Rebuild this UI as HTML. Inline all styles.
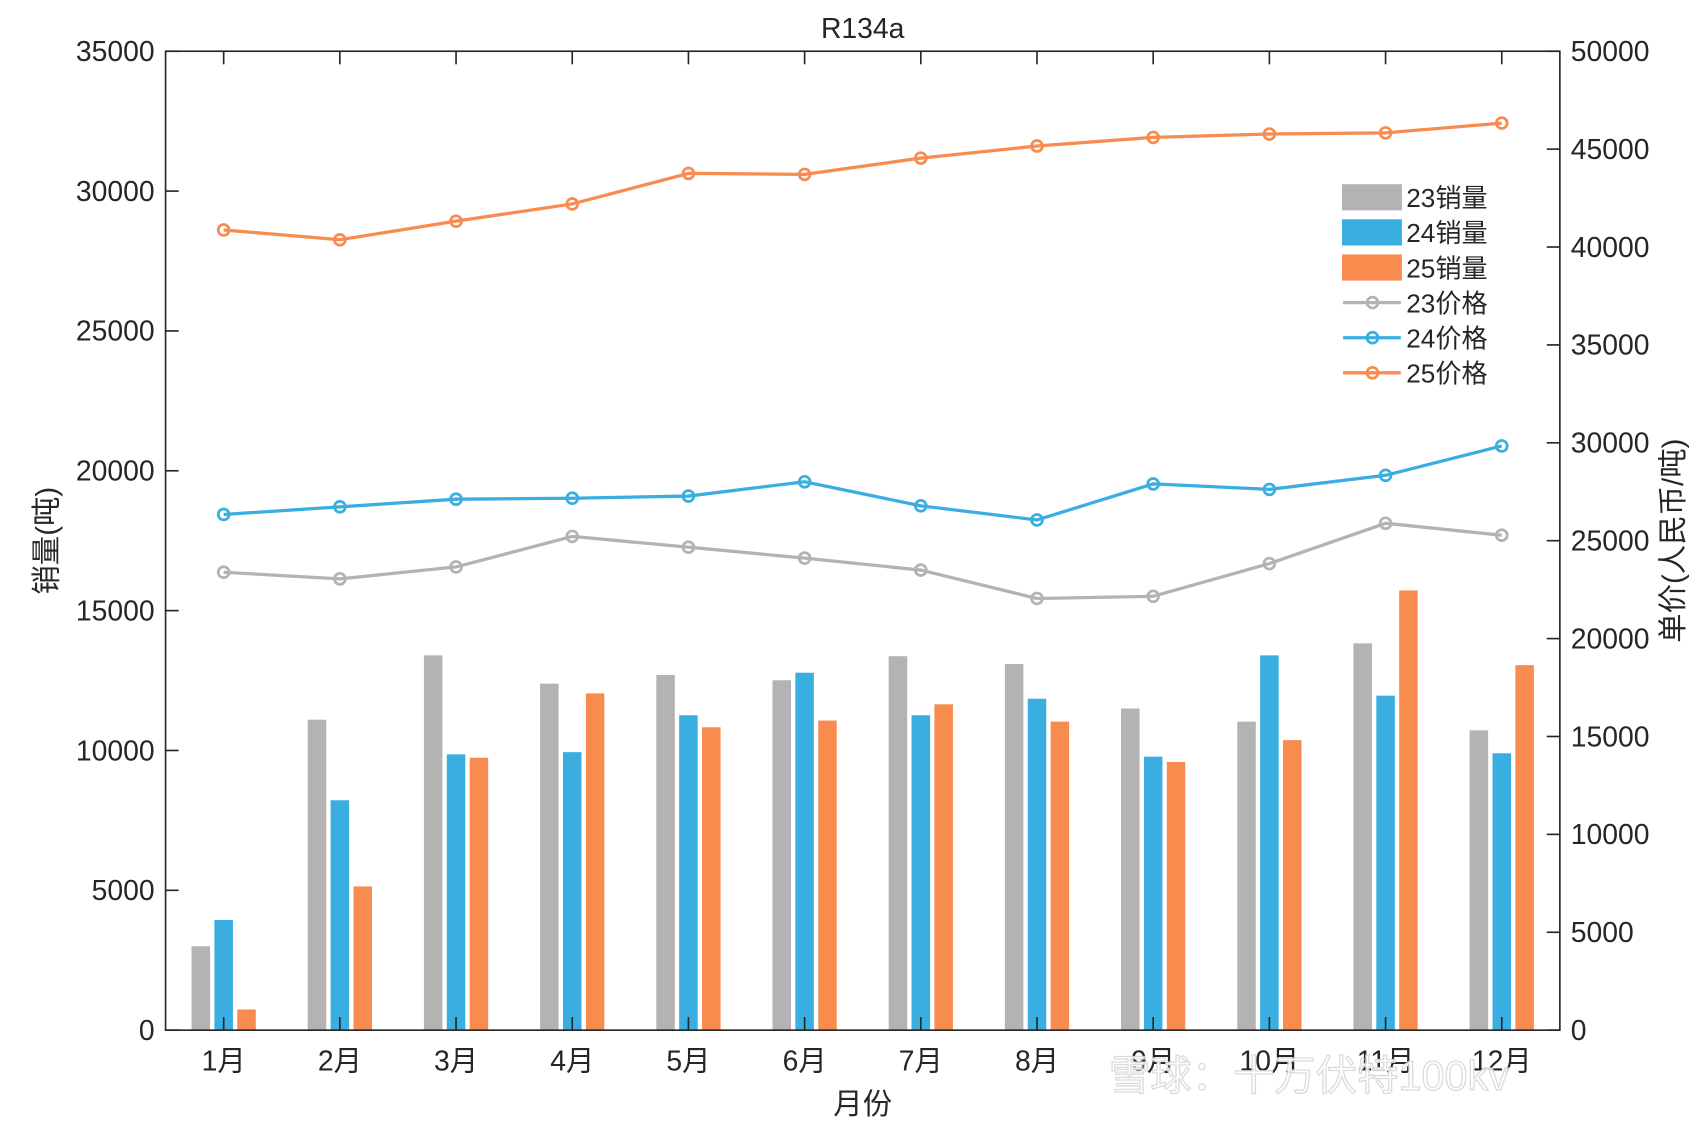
<!DOCTYPE html>
<html><head><meta charset="utf-8"><style>
html,body{margin:0;padding:0;background:#fff;}
svg{display:block;font-family:"Liberation Sans","Noto Sans CJK SC",sans-serif;}
</style></head><body>
<svg id="chart" width="1708" height="1125" viewBox="0 0 1568 1032" preserveAspectRatio="none" xmlns="http://www.w3.org/2000/svg"></svg>
<script>
const months=["1月","2月","3月","4月","5月","6月","7月","8月","9月","10月","11月","12月"];
const sales23=[3000,11100,13400,12390,12700,12510,13370,13090,11500,11030,13830,10720];
const sales24=[3940,8220,9860,9940,11260,12780,11260,11850,9780,13400,11960,9900];
const sales25=[740,5140,9740,12040,10830,11070,11650,11030,9590,10370,15720,13050];
const price23=[23390,23050,23660,25220,24670,24110,23500,22050,22160,23830,25890,25280];
const price24=[26340,26730,27120,27170,27280,28010,26780,26060,27900,27620,28340,29840];
const price25=[40870,40370,41320,42200,43760,43710,44540,45160,45600,45770,45830,46330];
const leftTicks=[0,5000,10000,15000,20000,25000,30000,35000];
const rightTicks=[0,5000,10000,15000,20000,25000,30000,35000,40000,45000,50000];

const NS="http://www.w3.org/2000/svg";
const svg=document.getElementById('chart');
const L=152,R=1432,T=47,B=945;
const yL=v=>B-(v/35000)*(B-T);
const yR=v=>B-(v/50000)*(B-T);
const step=(R-L)/12;
const xM=i=>L+step*(i+0.5);
function mk(tag,attrs,parent){const e=document.createElementNS(NS,tag);for(const k in attrs)e.setAttribute(k,attrs[k]);(parent||svg).appendChild(e);return e;}
function txt(s,attrs,parent){const e=mk('text',attrs,parent);e.textContent=s;return e;}

const colors={g:"#b3b3b3",b:"#3aaee0",o:"#f88c4f"};
const barSeries=[[sales23,colors.g,-21,'bar-23-sales'],[sales24,colors.b,0,'bar-24-sales'],[sales25,colors.o,21,'bar-25-sales']];
barSeries.forEach(([arr,c,off,nm])=>{
  arr.forEach((v,i)=>{
    const r=mk('rect',{x:xM(i)+off-8.5,y:yL(v),width:17,height:B-yL(v),fill:c});
    
    
  });
});
const lineSeries=[[price23,colors.g,'line-23-price'],[price24,colors.b,'line-24-price'],[price25,colors.o,'line-25-price']];
lineSeries.forEach(([arr,c,nm])=>{
  const p=mk('polyline',{points:arr.map((v,i)=>xM(i)+','+yR(v)).join(' '),fill:'none',stroke:c,'stroke-width':3});
  
  
  arr.forEach((v,i)=>{
    const m=mk('circle',{cx:xM(i),cy:yR(v),r:5,fill:'none',stroke:c,'stroke-width':2.5});
    
    
  });
});
const ax=mk('rect',{x:L,y:T,width:R-L,height:B-T,fill:'none',stroke:'#262626','stroke-width':1.5});


leftTicks.forEach(v=>{
  mk('line',{x1:L,x2:L+12,y1:yL(v),y2:yL(v),stroke:'#262626','stroke-width':1.5});
  const t=txt(v,{x:L-10,y:yL(v)+9,'text-anchor':'end','font-size':26,fill:'#262626'});
  
  
});
rightTicks.forEach(v=>{
  mk('line',{x1:R,x2:R-12,y1:yR(v),y2:yR(v),stroke:'#262626','stroke-width':1.5});
  const t=txt(v,{x:R+10,y:yR(v)+9,'text-anchor':'start','font-size':26,fill:'#262626'});
  
  
});
months.forEach((m,i)=>{
  mk('line',{x1:xM(i),x2:xM(i),y1:T,y2:T+12,stroke:'#262626','stroke-width':1.5});
  mk('line',{x1:xM(i),x2:xM(i),y1:B,y2:B-12,stroke:'#262626','stroke-width':1.5});
  const t=txt(m,{x:xM(i),y:B+37,'text-anchor':'middle','font-size':26,fill:'#262626'});
  
  
});
</script>
<script>
(function(){
const NS="http://www.w3.org/2000/svg";const svg=document.getElementById('chart');
function t(s,a,name){const e=document.createElementNS(NS,'text');for(const k in a)e.setAttribute(k,a[k]);e.textContent=s;


svg.appendChild(e);return e;}
t('R134a',{x:792,y:35,'text-anchor':'middle','font-size':26,fill:'#262626'},'chart-title');
t('月份',{x:792,y:1022,'text-anchor':'middle','font-size':27,fill:'#262626'},'x-axis-title');
t('销量(吨)',{x:0,y:0,transform:'translate(52,496) rotate(-90)','text-anchor':'middle','font-size':27,fill:'#262626'},'y-axis-title-left');
t('单价(人民币/吨)',{x:0,y:0,transform:'translate(1545,496) rotate(-90)','text-anchor':'middle','font-size':27,fill:'#262626'},'y-axis-title-right');
t('雪球：十万伏特100kv',{x:1018,y:1000,'font-size':38,fill:'#ffffff',stroke:'#d8d8d8','stroke-width':1.2,opacity:0.9},'watermark');
const items=[['rect','#b3b3b3','23销量'],['rect','#3aaee0','24销量'],['rect','#f88c4f','25销量'],['line','#b3b3b3','23价格'],['line','#3aaee0','24价格'],['line','#f88c4f','25价格']];
items.forEach((it,i)=>{
  const y=181+i*32.2;
  const g=document.createElementNS(NS,'g');svg.appendChild(g);
  
  
  if(it[0]==='rect'){const r=document.createElementNS(NS,'rect');r.setAttribute('x',1232);r.setAttribute('y',y-12);r.setAttribute('width',55);r.setAttribute('height',24);r.setAttribute('fill',it[1]);g.appendChild(r);}
  else{const l=document.createElementNS(NS,'line');l.setAttribute('x1',1233);l.setAttribute('x2',1286);l.setAttribute('y1',y);l.setAttribute('y2',y);l.setAttribute('stroke',it[1]);l.setAttribute('stroke-width',3);g.appendChild(l);
  const c=document.createElementNS(NS,'circle');c.setAttribute('cx',1260);c.setAttribute('cy',y);c.setAttribute('r',5);c.setAttribute('fill','none');c.setAttribute('stroke',it[1]);c.setAttribute('stroke-width',2.5);g.appendChild(c);}
  const tx=document.createElementNS(NS,'text');tx.setAttribute('x',1291);tx.setAttribute('y',y+9);tx.setAttribute('font-size',24);tx.setAttribute('fill','#262626');tx.textContent=it[2];g.appendChild(tx);
});
})();
</script>
</body></html>
